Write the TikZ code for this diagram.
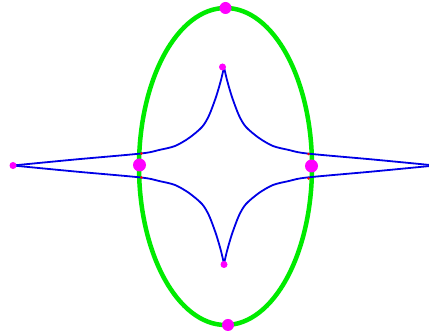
\documentclass[tikz,border=0pt]{standalone}
\definecolor{ovalgreen}{RGB}{0,235,0}
\definecolor{curveblue}{RGB}{0,0,230}
\definecolor{dotpink}{RGB}{255,0,255}
\begin{document}
\begin{tikzpicture}[x=1pt,y=-1pt]
  \useasboundingbox (0,0) rectangle (429,336);
  \clip (0,0) rectangle (429,336);
  % oval
  \draw[ovalgreen,line width=4.5pt] (225.5,166.5) ellipse (86.5 and 158.5);
  % star shaped curve, one quarter mirrored four times
  \foreach \sx/\sy in {1/1,-1/1,1/-1,-1/-1}{
    \begin{scope}[shift={(224,165.5)},xscale=\sx,yscale=\sy]
      \draw[curveblue,line width=1.8pt] plot[smooth,tension=.5] coordinates
        {(211,0) (149,6) (83,12) (65,15.5) (49,19.5) (35,27.5) (22,38.5)
         (15,50) (8,68.5) (3,85.5) (0,98.5)};
    \end{scope}
  }
  % crossings
  \fill[red] (141.5,153.5) circle (1.3);
  \fill[red] (141.5,177.5) circle (1.3);
  \fill[red] (308.5,154) circle (1.3);
  \fill[red] (308.5,178.5) circle (1.3);
  % vertices of the oval
  \fill[dotpink] (225.5,8) circle (6);
  \fill[dotpink] (228,325) circle (6);
  \fill[dotpink] (139.5,165) circle (6.5);
  \fill[dotpink] (311.5,166) circle (6.5);
  % cusps
  \fill[dotpink] (13,165.5) circle (3.5);
  \fill[dotpink] (222.5,67) circle (3.5);
  \fill[dotpink] (224,264.5) circle (3.5);
\end{tikzpicture}
\end{document}
